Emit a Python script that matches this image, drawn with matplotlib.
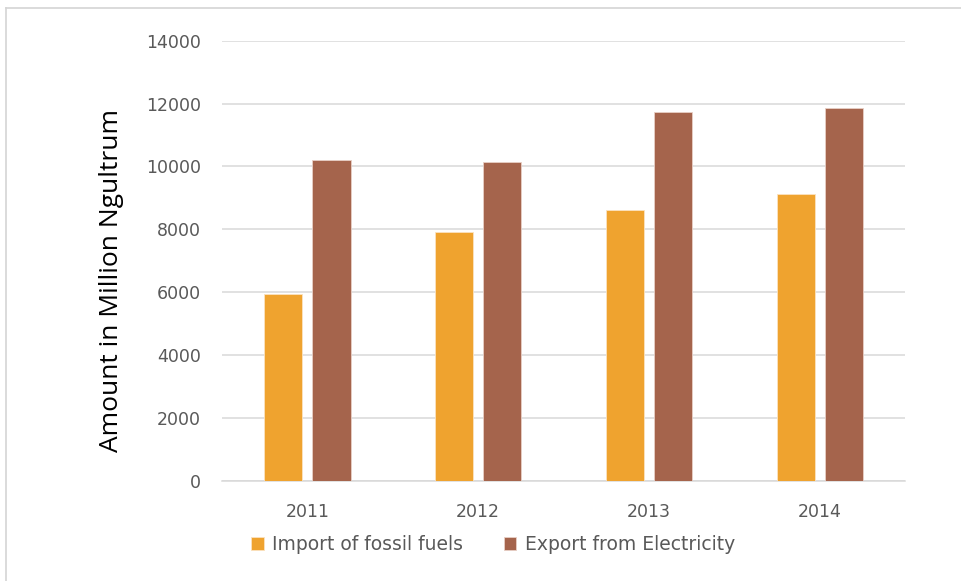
import matplotlib.pyplot as plt
import numpy as np

# chart data
years = ['2011', '2012', '2013', '2014']
import_fossil = [5930, 7910, 8600, 9110]
export_elec = [10190, 10130, 11720, 11850]

plt.rcParams['font.family'] = ['DejaVu Sans']
text_col = '#595959'

fig = plt.figure(figsize=(9.61, 5.81), dpi=100)
ax = fig.add_axes([0.231, 0.1726, 0.711, 0.7574])

x = np.arange(len(years))
w = 0.223
off = 0.141
ax.bar(x - off, import_fossil, w, color='#EFA32F', edgecolor='#FBE3C0', linewidth=0.6,
       label='Import of fossil fuels', zorder=3)
ax.bar(x + off, export_elec, w, color='#A5644C', edgecolor='#E8CFC6', linewidth=0.6,
       label='Export from Electricity', zorder=3)

ax.set_xlim(-0.5, len(years) - 0.5)
ax.set_ylim(0, 14000)
ax.set_yticks(range(0, 14001, 2000))
ax.set_xticks(x)
ax.set_xticklabels(years)
ax.grid(axis='y', color='#d9d9d9', linewidth=1.1, zorder=0)
for s in ['top', 'right', 'left']:
    ax.spines[s].set_visible(False)
ax.spines['bottom'].set_color('#d9d9d9')
ax.spines['bottom'].set_linewidth(1.1)
ax.tick_params(axis='both', length=0, colors=text_col, labelsize=12.5)
ax.tick_params(axis='y', pad=15)
ax.tick_params(axis='x', pad=16)

ax.set_ylabel('Amount in Million Ngultrum', fontsize=19, color='black', labelpad=16,
              family=['Open Sans', 'DejaVu Sans'])
ax.yaxis.label.set_y(0.455)

ax.legend(loc='center', bbox_to_anchor=(0.397, -0.1455), ncol=2, frameon=False,
          fontsize=13.5, labelcolor=text_col, handlelength=0.65, handleheight=0.65,
          columnspacing=2.2, handletextpad=0.45)

# outer frame (top and left edges visible in the reference)
fig.add_artist(plt.Line2D([6 / 961, 1], [1 - 8 / 581, 1 - 8 / 581], color='#d4d4d4', lw=1.2))
fig.add_artist(plt.Line2D([6 / 961, 6 / 961], [0, 1 - 8 / 581], color='#d4d4d4', lw=1.2))

fig.savefig('out.png', dpi=100)
